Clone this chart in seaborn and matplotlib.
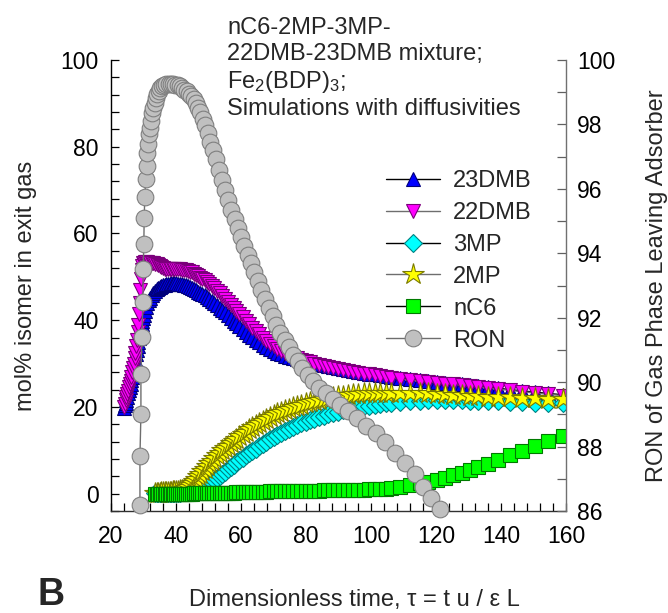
import matplotlib
matplotlib.use("Agg")
import matplotlib.pyplot as plt
import seaborn as sns
from matplotlib.ticker import MultipleLocator

# Dimensionless time of the breakthrough simulation (isomer outputs)
tau = [
    24.0, 24.25, 24.5, 24.75, 25.0, 25.25, 25.5, 25.75, 26.0,
    26.25, 26.5, 26.75, 27.0, 27.25, 27.5, 27.75, 28.0,
    28.2, 28.4, 28.6, 28.8, 29.0, 29.2, 29.4, 29.6, 29.8,
    30.0, 30.4, 30.8, 31.2, 31.6, 32.0,
    32.5, 33.0, 33.5, 34.0, 34.5, 35.0, 35.5, 36.0,
    36.5, 37.0, 37.5, 38.0, 38.5, 39.0, 39.5, 40.0,
    40.6, 41.2, 41.8, 42.4, 43.0, 43.6, 44.2, 44.8, 45.4, 46.0,
    46.7, 47.4, 48.1, 48.8, 49.5, 50.2,
    51.0, 51.8, 52.6, 53.4, 54.2, 55.0,
    55.9, 56.8, 57.7, 58.6, 59.5,
    60.5, 61.5, 62.5, 63.5, 64.5,
    65.6, 66.7, 67.8, 68.9, 70.0,
    71.2, 72.4, 73.6, 74.8, 76.0,
    77.3, 78.6, 79.9, 81.2,
    82.6, 84.0, 85.4, 86.8,
    88.3, 89.8, 91.3,
    92.9, 94.5, 96.1, 97.7,
    99.4, 101.1, 102.8, 104.5,
    106.3, 108.9, 112.0, 115.0, 117.5, 120.3,
    122.8, 125.2, 128.0, 130.5, 133.0, 136.0,
    139.1, 142.8, 146.5, 150.6, 154.6, 159.2,
]

# mol% in exit gas
dmb23 = [
    19.8, 20.4, 21.0, 21.7, 22.4, 23.1, 23.8, 24.5, 25.2,
    26.1, 27.0, 28.0, 29.0, 30.0, 31.0, 32.1, 33.2,
    34.1, 35.0, 35.9, 36.7, 37.6, 38.4, 39.2, 39.9, 40.6,
    41.2, 42.2, 43.1, 43.9, 44.6, 45.2,
    45.8, 46.3, 46.7, 47.1, 47.4, 47.7, 47.9, 48.1,
    48.2, 48.3, 48.4, 48.4, 48.5, 48.5, 48.5, 48.5,
    48.4, 48.4, 48.3, 48.2, 48.1, 47.9, 47.7, 47.5, 47.2, 46.9,
    46.6, 46.3, 46.0, 45.7, 45.3, 44.9,
    44.4, 43.9, 43.4, 42.9, 42.4, 41.9,
    41.2, 40.5, 39.9, 39.3, 38.7,
    38.0, 37.3, 36.7, 36.1, 35.5,
    34.9, 34.3, 33.8, 33.3, 32.9,
    32.5, 32.1, 31.8, 31.5, 31.3,
    31.0, 30.8, 30.6, 30.4,
    30.1, 29.9, 29.6, 29.4,
    29.1, 28.9, 28.7,
    28.5, 28.3, 28.1, 27.9,
    27.7, 27.5, 27.3, 27.1,
    26.9, 26.7, 26.4, 26.2, 26.0, 25.8,
    25.6, 25.4, 25.2, 25.0, 24.8, 24.6,
    24.3, 24.0, 23.7, 23.4, 23.1, 22.8,
]

dmb22 = [
    20.0, 20.7, 21.5, 22.2, 23.0, 23.7, 24.5, 25.2, 26.0,
    27.0, 28.0, 29.0, 30.0, 31.2, 32.5, 34.0, 35.5,
    37.2, 39.0, 41.5, 44.0, 47.0, 49.5, 51.5, 52.6, 53.1,
    53.3, 53.4, 53.4, 53.4, 53.3, 53.3,
    53.2, 53.1, 53.0, 52.9, 52.7, 52.5, 52.3, 52.1,
    51.9, 51.8, 51.7, 51.7, 51.7, 51.7, 51.7, 51.7,
    51.7, 51.7, 51.6, 51.6, 51.5, 51.4, 51.2, 51.0, 50.7, 50.4,
    50.1, 49.8, 49.5, 49.2, 48.8, 48.4,
    47.9, 47.4, 46.8, 46.2, 45.6, 45.0,
    44.3, 43.6, 42.9, 42.2, 41.5,
    40.7, 39.9, 39.1, 38.3, 37.6,
    36.8, 36.0, 35.3, 34.6, 34.0,
    33.4, 32.9, 32.4, 32.0, 31.6,
    31.2, 30.9, 30.6, 30.3,
    30.0, 29.7, 29.4, 29.2,
    28.9, 28.7, 28.5,
    28.3, 28.1, 27.9, 27.7,
    27.5, 27.3, 27.1, 26.9,
    26.7, 26.5, 26.2, 26.0, 25.8, 25.6,
    25.4, 25.2, 25.0, 24.8, 24.6, 24.4,
    24.1, 23.8, 23.5, 23.2, 22.9, 22.6,
]

# the mono-branched and linear isomers leave the bed from tau = 33.5 on
mp3 = [
    0.1, 0.1, 0.1, 0.1, 0.1, 0.1,
    0.1, 0.1, 0.1, 0.1, 0.1, 0.2, 0.2, 0.2,
    0.2, 0.2, 0.3, 0.3, 0.3, 0.4, 0.4, 0.5, 0.6, 0.7,
    0.8, 1.0, 1.2, 1.5, 1.8, 2.2,
    2.6, 3.1, 3.6, 4.1, 4.6, 5.1,
    5.6, 6.2, 6.7, 7.2, 7.7,
    8.3, 8.8, 9.4, 9.9, 10.4,
    10.9, 11.5, 12.0, 12.5, 13.0,
    13.5, 14.0, 14.4, 14.9, 15.3,
    15.8, 16.2, 16.6, 17.0,
    17.3, 17.7, 18.0, 18.3,
    18.6, 18.9, 19.2,
    19.4, 19.7, 19.9, 20.1,
    20.3, 20.5, 20.7, 20.8,
    21.0, 21.2, 21.3, 21.4, 21.5, 21.5,
    21.5, 21.5, 21.5, 21.4, 21.4, 21.3,
    21.3, 21.2, 21.1, 21.0, 20.9, 20.8,
]

mp2 = [
    0.2, 0.2, 0.2, 0.2, 0.3, 0.3,
    0.3, 0.3, 0.4, 0.4, 0.4, 0.5, 0.5, 0.6,
    0.7, 0.8, 0.9, 1.1, 1.3, 1.6, 2.0, 2.4, 2.9, 3.4,
    4.0, 4.6, 5.2, 5.8, 6.4, 7.0,
    7.6, 8.2, 8.8, 9.4, 10.0, 10.5,
    11.1, 11.7, 12.2, 12.7, 13.2,
    13.8, 14.3, 14.8, 15.3, 15.8,
    16.3, 16.8, 17.3, 17.7, 18.1,
    18.5, 18.9, 19.3, 19.6, 19.9,
    20.2, 20.5, 20.8, 21.1,
    21.4, 21.6, 21.9, 22.1,
    22.3, 22.5, 22.6,
    22.8, 22.9, 23.0, 23.1,
    23.2, 23.3, 23.3, 23.3,
    23.3, 23.3, 23.2, 23.2, 23.1, 23.0,
    22.9, 22.8, 22.7, 22.6, 22.5, 22.4,
    22.3, 22.2, 22.1, 22.0, 21.9, 21.8,
]

nc6 = [
    0.0, 0.0, 0.0, 0.0, 0.0, 0.0,
    0.0, 0.0, 0.0, 0.0, 0.0, 0.0, 0.0, 0.0,
    0.0, 0.0, 0.0, 0.0, 0.0, 0.0, 0.0, 0.0, 0.05, 0.05,
    0.05, 0.05, 0.1, 0.1, 0.1, 0.1,
    0.1, 0.15, 0.15, 0.15, 0.2, 0.2,
    0.2, 0.25, 0.25, 0.3, 0.3,
    0.3, 0.35, 0.35, 0.4, 0.4,
    0.4, 0.45, 0.45, 0.5, 0.5,
    0.5, 0.55, 0.55, 0.6, 0.6,
    0.6, 0.6, 0.65, 0.65,
    0.7, 0.7, 0.75, 0.75,
    0.8, 0.85, 0.85,
    0.9, 0.9, 0.95, 0.95,
    1.0, 1.05, 1.1, 1.15,
    1.2, 1.6, 2.0, 2.4, 2.8, 3.2,
    3.6, 4.2, 4.8, 5.4, 6.2, 6.9,
    7.7, 8.8, 9.9, 11.0, 12.1, 13.2,
]

# Research octane number of the gas phase leaving the adsorber
tau_ron = [
    28.9, 28.9, 29.2, 29.2, 29.5, 29.8, 29.9, 30.1, 30.2, 30.4,
    30.7, 31.0, 31.1, 31.4, 31.7, 32.0, 32.3, 32.7, 33.0, 33.4,
    33.8, 34.2, 34.7, 35.2, 35.8, 36.4, 37.0, 37.7, 38.4, 39.1,
    39.8, 40.5, 41.2, 41.9, 42.6, 43.3, 44.0, 44.7, 45.4, 46.1,
    46.8, 47.5, 48.2, 49.0, 49.8, 50.6, 51.4, 52.3, 53.2, 54.1,
    55.0, 56.0, 57.0, 58.0, 59.0, 60.0, 61.0, 62.0, 63.0, 64.1,
    65.2, 66.3, 67.4, 68.5, 69.7, 70.9, 72.1, 73.4, 74.7, 76.0,
    77.4, 78.9, 80.5, 82.2, 84.0, 86.0, 88.2, 90.5, 93.0, 95.7,
    98.5, 101.4, 104.4, 107.5, 110.6, 113.4, 116.0, 118.6, 121.2,
]
ron = [
    86.2, 87.7, 89.0, 90.25, 91.4, 92.5, 93.5, 94.3, 95.1, 95.75,
    96.3, 96.7, 97.1, 97.4, 97.7, 97.9, 98.1, 98.35, 98.5, 98.68,
    98.82, 98.95, 99.05, 99.12, 99.18, 99.22, 99.24, 99.26, 99.26, 99.25,
    99.23, 99.21, 99.18, 99.13, 99.08, 99.03, 98.96, 98.88, 98.78, 98.66,
    98.52, 98.38, 98.18, 97.98, 97.72, 97.47, 97.2, 96.92, 96.58, 96.27,
    95.98, 95.66, 95.35, 95.07, 94.78, 94.5, 94.22, 93.96, 93.7, 93.42,
    93.13, 92.85, 92.57, 92.3, 92.04, 91.76, 91.52, 91.3, 91.08, 90.85,
    90.65, 90.43, 90.22, 90.02, 89.83, 89.66, 89.47, 89.3, 89.1, 88.88,
    88.65, 88.42, 88.15, 87.8, 87.5, 87.15, 86.76, 86.4, 86.05,
]

labels = ["23DMB", "22DMB", "3MP", "2MP", "nC6", "RON"]

assert len(dmb23) == len(tau) and len(dmb22) == len(tau)
assert len(mp3) == len(mp2) == len(nc6)
assert len(tau_ron) == len(ron)

sns.set_theme(style="ticks")
plt.rcParams["font.family"] = ["Liberation Sans", "DejaVu Sans"]
plt.rcParams["mathtext.fontset"] = "custom"
plt.rcParams["mathtext.rm"] = "Liberation Sans"
plt.rcParams["mathtext.it"] = "Liberation Sans:italic"
plt.rcParams["mathtext.bf"] = "Liberation Sans:bold"

FS = 17
TFS = 16.5

fig = plt.figure(figsize=(6.68, 6.13), dpi=100)
ax = fig.add_axes([0.1662, 0.1664, 0.6811, 0.7357])
ax2 = ax.twinx()

tau_late = tau[len(tau) - len(nc6):]

# (x, y, marker, size, face, edge, line colour)
series = [
    (tau, dmb23, "^", 10, "#0000ff", "#00007a", "black"),
    (tau, dmb22, "v", 10, "#ff00ff", "#7a007a", "#6e6e6e"),
    (tau_late, mp3, "D", 9, "#00ffff", "#008080", "black"),
    (tau_late, mp2, "*", 16, "#ffff00", "#7a7a00", "#6e6e6e"),
    (tau_late, nc6, "s", 10, "#00ff00", "#007a00", "black"),
]

handles = []
for x, y, m, ms, fc, ec, lc in series:
    sns.lineplot(x=x, y=y, ax=ax, estimator=None, sort=False, legend=False,
                 color=lc, linewidth=1.0, marker=m, markersize=ms,
                 markerfacecolor=fc, markeredgecolor=ec, markeredgewidth=0.8)
    handles.append(ax.lines[-1])

sns.lineplot(x=tau_ron, y=ron, ax=ax2, estimator=None, sort=False, legend=False,
             color="#6e6e6e", linewidth=1.0, marker="o", markersize=12,
             markerfacecolor="#c0c0c0", markeredgecolor="#7f7f7f",
             markeredgewidth=0.8, clip_on=False)
handles.append(ax2.lines[-1])

ax.set_xlim(20, 160)
ax.set_ylim(-4, 100)
ax2.set_ylim(86, 100)

ax.xaxis.set_major_locator(MultipleLocator(20))
ax.xaxis.set_minor_locator(MultipleLocator(4))
ax.yaxis.set_major_locator(MultipleLocator(20))
ax.yaxis.set_minor_locator(MultipleLocator(4))
ax2.yaxis.set_major_locator(MultipleLocator(2))
ax2.yaxis.set_minor_locator(MultipleLocator(1))

ax.tick_params(axis="x", which="both", direction="in", top=False, bottom=True,
               length=6, width=0.9, color="black", labelsize=TFS, pad=10)
ax.tick_params(axis="y", which="both", direction="in", left=True, right=False,
               length=6, width=0.9, color="black", labelsize=TFS, pad=9)
ax2.tick_params(axis="y", which="both", direction="in", right=True, left=False,
                length=6.5, width=0.9, color="#606060", labelsize=TFS, pad=8)
for a in (ax, ax2):
    a.tick_params(labelcolor="black")

for s in ("top", "right"):
    ax.spines[s].set_visible(False)
for s in ("top", "left", "bottom"):
    ax2.spines[s].set_visible(False)
ax.spines["left"].set_color("black")
ax.spines["bottom"].set_color("#303030")
ax2.spines["right"].set_color("#707070")
for a in (ax, ax2):
    for sp in a.spines.values():
        sp.set_linewidth(1.0)

ax.set_xlabel(r"Dimensionless time, τ = t u / ε L", fontsize=FS)
ax.xaxis.set_label_coords(0.536, -0.172)
ax.set_ylabel("mol% isomer in exit gas", fontsize=FS)
ax.yaxis.set_label_coords(-0.163, 0.5)
ax2.set_ylabel("RON of Gas Phase Leaving Adsorber", fontsize=FS)
ax2.yaxis.set_label_coords(1.175, 0.5)

leg = ax2.legend(handles, labels, loc="upper left",
                 bbox_to_anchor=(386 / 668, 1 - 170 / 613),
                 bbox_transform=fig.transFigure, frameon=False, fontsize=FS,
                 handlelength=2.3, handletextpad=0.55, labelspacing=0.42,
                 borderpad=0, borderaxespad=0, numpoints=1)

# annotation block at the top
note = ["nC6-2MP-3MP-", "22DMB-23DMB mixture;", r"Fe$_2$(BDP)$_3$;",
        "Simulations with diffusivities"]
baselines = [34, 60, 88, 115]
for txt, yb in zip(note, baselines):
    fig.text(227 / 668, 1 - yb / 613, txt, fontsize=FS, va="baseline", ha="left")

fig.text(37 / 668, 1 - 605 / 613, "B", fontsize=27, fontweight="bold",
         va="baseline", ha="left")

fig.savefig("out.png", dpi=100)
